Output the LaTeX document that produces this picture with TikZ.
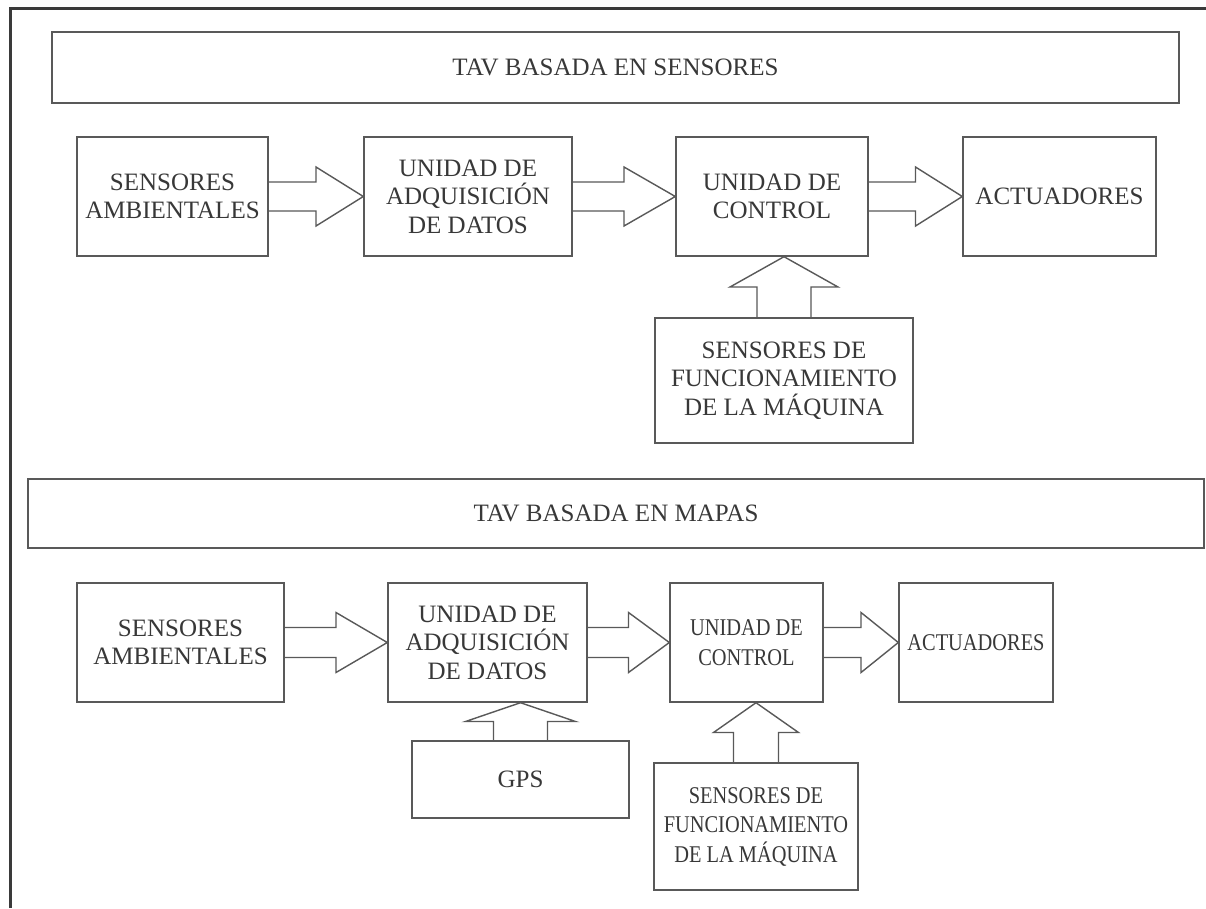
\documentclass[tikz,border=0pt]{standalone}
\usepackage{fontspec}
\setmainfont{Liberation Serif}
\newfontfamily\narrowserif[FakeStretch=0.85]{Liberation Serif}
\usetikzlibrary{calc}
\definecolor{linegray}{HTML}{595959}
\definecolor{textgray}{HTML}{383838}
\definecolor{framegray}{HTML}{3A3A3A}
\tikzset{
  blk/.style={draw=linegray, line width=1.4pt, inner sep=0pt, align=center,
    text=textgray, font=\fontsize{25}{28.5}\selectfont},
  narrowblk/.style={blk, font=\narrowserif\fontsize{24}{29.5}\selectfont},
  arrline/.style={draw=linegray, line width=1.4pt, line join=miter},
  frameline/.style={draw=framegray, line width=3pt}
}
% right block arrow: from, to, shaft half height, head half height
\newcommand{\rarr}[4]{%
  \path[arrline] let \p1=(#1.east), \p2=(#2.west), \n1={(\x1+\x2)/2} in
    (\x1,\y2+#3) -- ({\n1*1pt},\y2+#3) -- ({\n1*1pt},\y2+#4) -- (\x2,\y2)
    -- ({\n1*1pt},\y2-#4) -- ({\n1*1pt},\y2-#3) -- (\x1,\y2-#3);}
% up block arrow: from (lower), to (upper), shaft half width, head half width
\newcommand{\uarr}[4]{%
  \path[arrline] let \p1=(#1.north), \p2=(#2.south), \n1={(\y1+\y2)/2} in
    (\x1-#3,\y1) -- (\x1-#3,{\n1*1pt}) -- (\x1-#4,{\n1*1pt}) -- (\x1,\y2)
    -- (\x1+#4,{\n1*1pt}) -- (\x1+#3,{\n1*1pt}) -- (\x1+#3,\y1);}
\begin{document}
\begin{tikzpicture}[x=1pt,y=-1pt]
\useasboundingbox (0,0) rectangle (1206,908);
\fill[white] (0,0) rectangle (1206,908);
% outer frame (top and left)
\draw[frameline] (10,908) -- (10,8) -- (1206,8);

% ---------- section 1 ----------
\node[blk, minimum width=1127pt, minimum height=71pt] (t1) at (615.5,67.5) {TAV BASADA EN SENSORES};
\node[blk, minimum width=191pt, minimum height=119pt] (sa1) at (172.5,196.5) {SENSORES\\AMBIENTALES};
\node[blk, minimum width=208pt, minimum height=119pt] (ua1) at (468,196.5) {UNIDAD DE\\ADQUISICIÓN\\DE DATOS};
\node[blk, minimum width=192pt, minimum height=119pt] (uc1) at (772,196.5) {UNIDAD DE\\CONTROL};
\node[blk, minimum width=193pt, minimum height=119pt] (ac1) at (1059.5,196.5) {ACTUADORES};
\node[blk, minimum width=258pt, minimum height=125pt] (sf1) at (784,380.5) {SENSORES DE\\FUNCIONAMIENTO\\DE LA MÁQUINA};
\rarr{sa1}{ua1}{14.5pt}{29.5pt}
\rarr{ua1}{uc1}{14.5pt}{29.5pt}
\rarr{uc1}{ac1}{14.5pt}{29.5pt}
\uarr{sf1}{uc1}{27pt}{54pt}

% ---------- section 2 ----------
\node[blk, minimum width=1176pt, minimum height=69pt] (t2) at (616,513.5) {TAV BASADA EN MAPAS};
\node[blk, minimum width=207pt, minimum height=119pt] (sa2) at (180.5,642.5) {SENSORES\\AMBIENTALES};
\node[blk, minimum width=199pt, minimum height=119pt] (ua2) at (487.5,642.5) {UNIDAD DE\\ADQUISICIÓN\\DE DATOS};
\node[narrowblk, minimum width=153pt, minimum height=119pt] (uc2) at (746.5,642.5) {UNIDAD DE\\CONTROL};
\node[narrowblk, minimum width=154pt, minimum height=119pt] (ac2) at (976,642.5) {ACTUADORES};
\node[blk, minimum width=217pt, minimum height=77pt] (gps) at (520.5,779.5) {GPS};
\node[narrowblk, minimum width=204pt, minimum height=127pt] (sf2) at (756,826.5) {SENSORES DE\\FUNCIONAMIENTO\\DE LA MÁQUINA};
\rarr{sa2}{ua2}{15pt}{30pt}
\rarr{ua2}{uc2}{15pt}{30pt}
\rarr{uc2}{ac2}{15pt}{30pt}
\uarr{gps}{ua2}{27pt}{55pt}
\uarr{sf2}{uc2}{22.5pt}{42.5pt}
\end{tikzpicture}
\end{document}
